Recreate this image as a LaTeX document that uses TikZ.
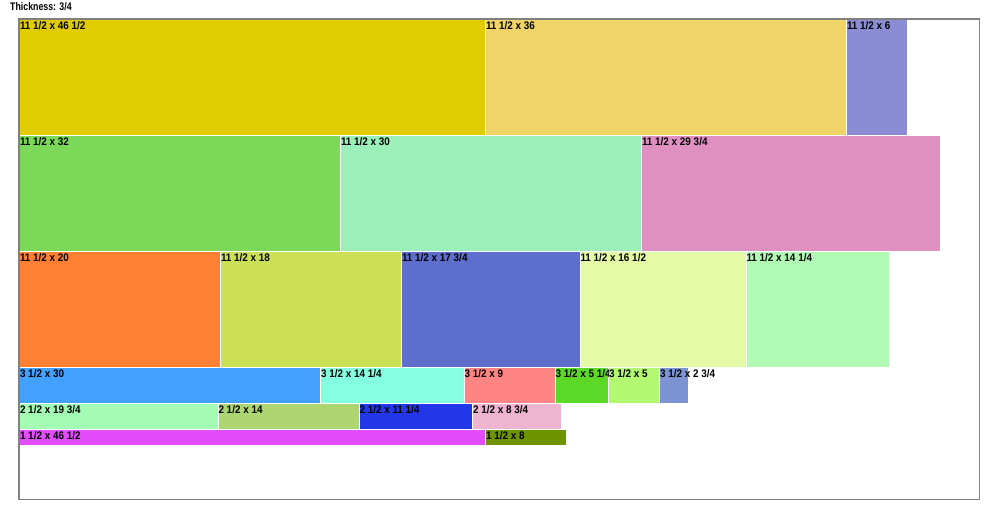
\documentclass[tikz,border=0pt]{standalone}
\usepackage{fontspec}
\setmainfont{Liberation Sans}
\usepackage{graphicx}
\definecolor{bordergray}{HTML}{808080}
\definecolor{cA}{HTML}{E0CC00}
\definecolor{cB}{HTML}{F0D468}
\definecolor{cC}{HTML}{8A8CD4}
\definecolor{cD}{HTML}{7CD858}
\definecolor{cE}{HTML}{9AF0B8}
\definecolor{cF}{HTML}{E090C0}
\definecolor{cG}{HTML}{FF7F33}
\definecolor{cH}{HTML}{CCE055}
\definecolor{cI}{HTML}{5D6ECC}
\definecolor{cJ}{HTML}{E5FAA5}
\definecolor{cK}{HTML}{B0FAB4}
\definecolor{cL}{HTML}{42A0FF}
\definecolor{cM}{HTML}{84FFE0}
\definecolor{cN}{HTML}{FF8585}
\definecolor{cO}{HTML}{5CD826}
\definecolor{cP}{HTML}{B2F870}
\definecolor{cQ}{HTML}{7C94D4}
\definecolor{cR}{HTML}{A4FCB4}
\definecolor{cS}{HTML}{AED670}
\definecolor{cT}{HTML}{2238E8}
\definecolor{cU}{HTML}{EEB4D0}
\definecolor{cV}{HTML}{E24CFA}
\definecolor{cW}{HTML}{6E9400}
\newcommand{\lbltext}[1]{\scalebox{0.9}[1]{\fontsize{11}{11}\selectfont\bfseries #1}}
\newcommand{\piece}[7]{%
  \fill[#5] (#1,#2) rectangle ++(#3,#4);
  \node[lbl] (#7) at (#1,#2+9.8) {\lbltext{#6}};
}
\tikzset{lbl/.style={anchor=base west, inner sep=0pt, outer sep=0pt, text=black}}
\begin{document}
\begin{tikzpicture}[x=1pt,y=-1pt]
\useasboundingbox (0,0) rectangle (1000,520);
\fill[white] (0,0) rectangle (1000,520);
\node[anchor=base west, inner sep=0pt] (title) at (10,10.8) {\scalebox{0.8}[1]{\fontsize{11}{11}\selectfont\bfseries Thickness: 3/4}};
\draw[bordergray, line width=1.6pt] (19.2,19.2) rectangle (979.5,499.5);
% row 1
\piece{20}{20}{465}{115}{cA}{11 1/2 x 46 1/2}{p1}
\piece{486}{20}{360}{115}{cB}{11 1/2 x 36}{p2}
\piece{847}{20}{60}{115}{cC}{11 1/2 x 6}{p3}
% row 2
\piece{20}{136}{320}{115}{cD}{11 1/2 x 32}{p4}
\piece{341}{136}{300}{115}{cE}{11 1/2 x 30}{p5}
\piece{642}{136}{297.5}{115}{cF}{11 1/2 x 29 3/4}{p6}
% row 3
\piece{20}{252}{200}{115}{cG}{11 1/2 x 20}{p7}
\piece{221}{252}{180}{115}{cH}{11 1/2 x 18}{p8}
\piece{402}{252}{177.5}{115}{cI}{11 1/2 x 17 3/4}{p9}
\piece{580.5}{252}{165}{115}{cJ}{11 1/2 x 16 1/2}{p10}
\piece{746.5}{252}{142.5}{115}{cK}{11 1/2 x 14 1/4}{p11}
% row 4
\piece{20}{368}{300}{35}{cL}{3 1/2 x 30}{p12}
\piece{321}{368}{142.5}{35}{cM}{3 1/2 x 14 1/4}{p13}
\piece{464.5}{368}{90}{35}{cN}{3 1/2 x 9}{p14}
\piece{555.5}{368}{52.5}{35}{cO}{3 1/2 x 5 1/4}{p15}
\piece{609}{368}{50}{35}{cP}{3 1/2 x 5}{p16}
\piece{660}{368}{27.5}{35}{cQ}{3 1/2 x 2 3/4}{p17}
% row 5
\piece{20}{404}{197.5}{25}{cR}{2 1/2 x 19 3/4}{p18}
\piece{218.5}{404}{140}{25}{cS}{2 1/2 x 14}{p19}
\piece{359.5}{404}{112.5}{25}{cT}{2 1/2 x 11 1/4}{p20}
\piece{473}{404}{87.5}{25}{cU}{2 1/2 x 8 3/4}{p21}
% row 6
\piece{20}{430}{465}{15}{cV}{1 1/2 x 46 1/2}{p22}
\piece{486}{430}{80}{15}{cW}{1 1/2 x 8}{p23}
\end{tikzpicture}
\end{document}
